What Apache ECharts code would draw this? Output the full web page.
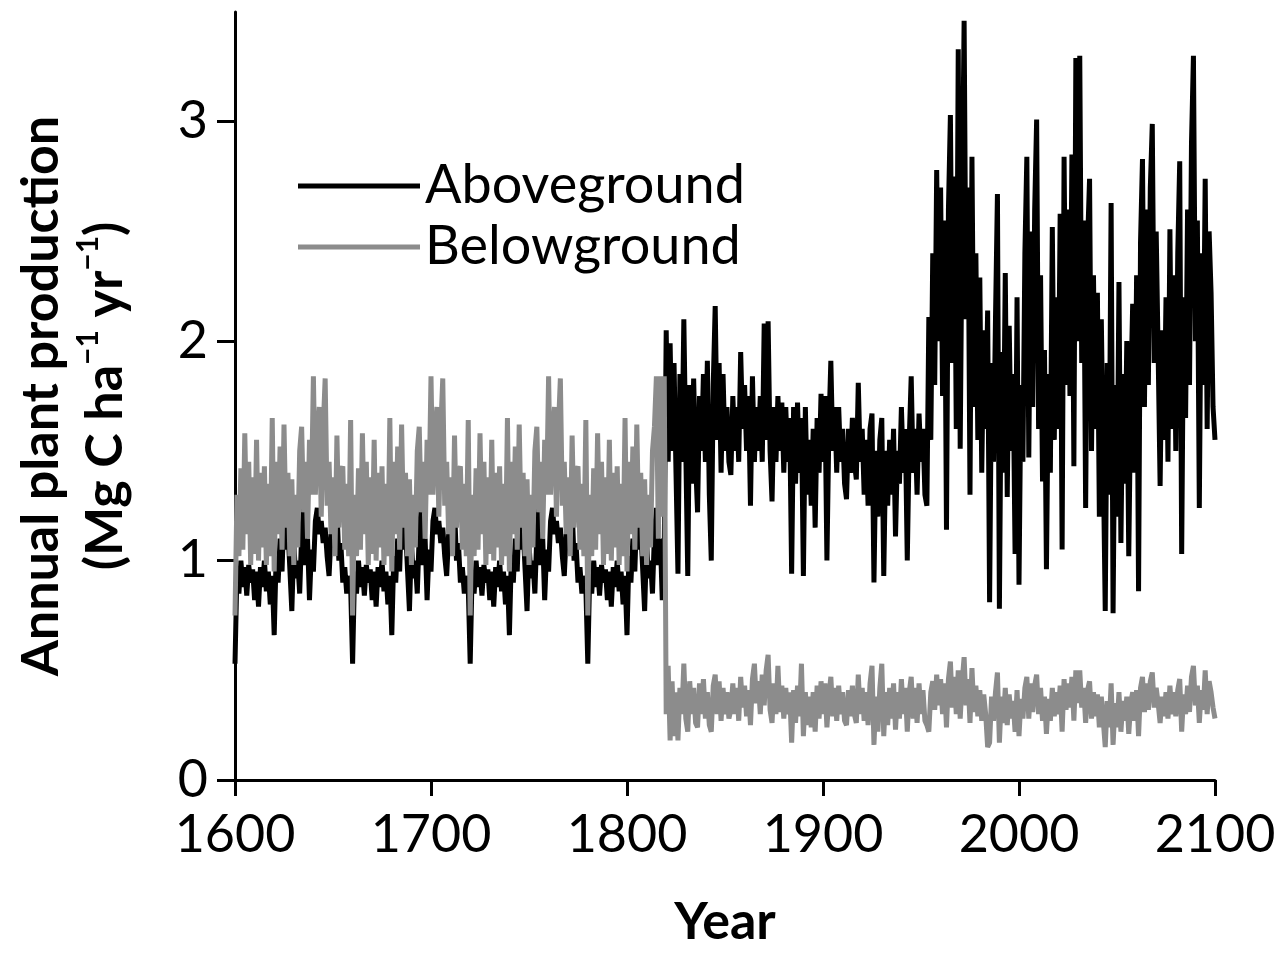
<!DOCTYPE html>
<html>
<head>
<meta charset="utf-8">
<script src="https://cdn.jsdelivr.net/npm/echarts@6/dist/echarts.min.js"></script>
<style>
html,body{margin:0;padding:0;background:#fff;overflow:hidden;}
#chart{width:1285px;height:953px;}
</style>
</head>
<body>
<div id="chart"></div>
<script>
// ---- Data ----
const seriesNames = ['Aboveground', 'Belowground'];
const xTicks = [1600, 1700, 1800, 1900, 2000, 2100];
const yTicks = [0, 1, 2, 3];

// Aboveground, 1600-1819 (climate record recycled in the model, so it repeats)
const aboveStartEarly = 1600;
const aboveEarly = [
  0.53,0.95,0.85,1.00,0.88,0.97,0.84,0.98,0.90,0.96,
  0.82,0.95,0.79,0.97,0.88,1.00,0.86,0.95,0.80,0.93,
  0.66,1.02,0.90,1.10,0.95,1.24,1.05,1.15,0.96,0.77,
  1.08,0.92,1.00,0.85,1.12,1.24,0.98,1.10,0.82,1.05,
  0.95,1.18,1.24,1.12,1.18,1.08,1.15,1.02,0.93,1.12,
  1.06,1.16,1.24,1.00,1.08,0.90,0.97,0.85,0.93,0.88,
  0.53,0.95,0.85,1.00,0.88,0.97,0.84,0.98,0.90,0.96,
  0.82,0.95,0.79,0.97,0.88,1.00,0.86,0.95,0.80,0.93,
  0.66,1.02,0.90,1.10,0.95,1.24,1.05,1.15,0.96,0.77,
  1.08,0.92,1.00,0.85,1.12,1.24,0.98,1.10,0.82,1.05,
  0.95,1.18,1.24,1.12,1.18,1.08,1.15,1.02,0.93,1.12,
  1.06,1.16,1.24,1.00,1.08,0.90,0.97,0.85,0.93,0.88,
  0.53,0.95,0.85,1.00,0.88,0.97,0.84,0.98,0.90,0.96,
  0.82,0.95,0.79,0.97,0.88,1.00,0.86,0.95,0.80,0.93,
  0.66,1.02,0.90,1.10,0.95,1.24,1.05,1.15,0.96,0.77,
  1.08,0.92,1.00,0.85,1.12,1.24,0.98,1.10,0.82,1.05,
  0.95,1.18,1.24,1.12,1.18,1.08,1.15,1.02,0.93,1.12,
  1.06,1.16,1.24,1.00,1.08,0.90,0.97,0.85,0.93,0.88,
  0.53,0.95,0.85,1.00,0.88,0.97,0.84,0.98,0.90,0.96,
  0.82,0.95,0.79,0.97,0.88,1.00,0.86,0.95,0.80,0.93,
  0.66,1.02,0.90,1.10,0.95,1.24,1.05,1.15,0.96,0.77,
  1.08,0.92,1.00,0.85,1.12,1.24,0.98,1.10,0.82,1.05
];
// Aboveground, 1820-1954
const aboveStartMid = 1820;
const aboveMid = [
  2.05,1.45,1.99,1.50,1.90,1.40,0.94,1.85,1.45,2.10,
  1.50,0.93,1.80,1.35,1.83,1.45,1.22,1.75,1.50,1.85,
  1.45,1.91,1.30,1.00,1.80,2.16,1.55,1.90,1.40,1.85,
  1.50,1.70,1.45,1.39,1.75,1.50,1.70,1.45,1.95,1.60,
  1.80,1.50,1.75,1.25,1.84,1.45,1.70,1.50,1.75,1.45,
  2.08,1.55,2.09,1.50,1.27,1.70,1.45,1.75,1.50,1.72,
  1.40,1.70,1.45,1.65,0.94,1.70,1.35,1.72,1.40,1.65,
  0.93,1.70,1.30,1.55,1.25,1.60,1.15,1.65,1.40,1.76,
  1.45,1.75,1.00,1.60,1.91,1.50,1.70,1.40,1.70,1.45,
  1.60,1.35,1.28,1.60,1.40,1.65,1.45,1.37,1.81,1.45,
  1.60,1.30,1.55,1.25,1.60,1.67,0.90,1.50,1.20,1.55,
  1.65,0.93,1.50,1.25,1.55,1.30,1.60,1.11,1.50,1.35,
  1.70,1.40,1.60,1.00,1.55,1.84,1.40,1.60,1.30,1.67,
  1.45,1.60,1.30,1.25,2.11
];
// Aboveground, 1955-2100
const aboveStartLate = 1955;
const aboveLate = [
  1.55,2.40,1.80,2.78,2.00,2.70,1.75,2.55,1.14,2.60,
  3.03,1.90,2.75,1.60,3.33,1.51,2.60,3.46,2.10,2.70,
  1.30,2.84,1.70,2.40,1.55,2.29,1.40,2.05,1.60,2.14,
  0.81,1.90,1.45,2.10,2.67,0.78,1.95,1.40,2.31,1.29,
  2.07,1.50,1.85,1.03,2.20,0.89,1.80,1.45,2.40,2.84,
  1.47,2.50,1.70,2.60,3.01,1.60,2.30,1.36,1.96,0.96,
  1.85,1.40,2.52,1.55,2.20,1.60,2.58,1.05,2.84,1.80,
  2.60,1.75,2.85,1.43,3.29,2.00,3.30,1.90,2.55,1.24,
  2.45,2.74,1.50,2.30,1.60,2.22,1.20,2.10,1.45,0.77,
  1.90,1.30,2.63,0.76,1.80,1.20,2.27,1.08,1.85,1.35,
  2.00,1.02,1.75,2.17,1.40,2.30,0.86,2.45,2.83,1.70,
  2.60,1.80,2.70,2.99,1.90,2.50,1.94,1.34,2.05,1.55,
  2.20,1.45,2.51,1.60,2.30,1.50,2.40,2.82,1.03,2.20,
  1.65,2.60,1.80,2.90,3.30,2.00,2.55,1.24,2.40,1.80,
  2.74,1.60,2.50,2.22,1.70,1.55
];

// Belowground, 1600-1819
const belowStartEarly = 1600;
const belowEarly = [
  0.75,1.30,1.02,1.42,1.05,1.58,1.12,1.45,0.98,1.38,
  1.03,1.55,1.00,1.40,1.06,1.43,0.98,1.35,1.02,1.65,
  0.95,1.45,1.12,1.52,1.05,1.62,1.15,1.40,1.02,1.37,
  0.98,1.30,1.06,1.50,1.61,1.22,1.45,1.10,1.55,1.30,
  1.84,1.30,1.55,1.70,1.20,1.60,1.83,1.25,1.45,1.12,
  1.38,1.02,1.57,1.15,1.40,1.43,1.05,1.35,1.02,1.64,
  0.75,1.30,1.02,1.42,1.05,1.58,1.12,1.45,0.98,1.38,
  1.03,1.55,1.00,1.40,1.06,1.43,0.98,1.35,1.02,1.65,
  0.95,1.45,1.12,1.52,1.05,1.62,1.15,1.40,1.02,1.37,
  0.98,1.30,1.06,1.50,1.61,1.22,1.45,1.10,1.55,1.30,
  1.84,1.30,1.55,1.70,1.20,1.60,1.83,1.25,1.45,1.12,
  1.38,1.02,1.57,1.15,1.40,1.43,1.05,1.35,1.02,1.64,
  0.75,1.30,1.02,1.42,1.05,1.58,1.12,1.45,0.98,1.38,
  1.03,1.55,1.00,1.40,1.06,1.43,0.98,1.35,1.02,1.65,
  0.95,1.45,1.12,1.52,1.05,1.62,1.15,1.40,1.02,1.37,
  0.98,1.30,1.06,1.50,1.61,1.22,1.45,1.10,1.55,1.30,
  1.84,1.30,1.55,1.70,1.20,1.60,1.83,1.25,1.45,1.12,
  1.38,1.02,1.57,1.15,1.40,1.43,1.05,1.35,1.02,1.64,
  0.75,1.30,1.02,1.42,1.05,1.58,1.12,1.45,0.98,1.38,
  1.03,1.55,1.00,1.40,1.06,1.43,0.98,1.35,1.02,1.65,
  0.95,1.45,1.12,1.52,1.05,1.62,1.15,1.40,1.02,1.37,
  0.98,1.30,1.06,1.50,1.61,1.84,1.10,1.84,1.20,1.84
];
// Belowground, 1820-2100
const belowStartLate = 1820;
const belowLate = [
  0.30,0.52,0.18,0.45,0.20,0.40,0.18,0.42,0.30,0.53,
  0.28,0.22,0.45,0.30,0.42,0.26,0.24,0.44,0.30,0.46,
  0.28,0.40,0.25,0.22,0.43,0.48,0.30,0.45,0.27,0.42,
  0.30,0.40,0.28,0.32,0.44,0.30,0.42,0.27,0.47,0.33,
  0.43,0.29,0.41,0.25,0.46,0.53,0.35,0.45,0.30,0.48,
  0.34,0.50,0.57,0.32,0.26,0.44,0.30,0.52,0.31,0.43,
  0.28,0.42,0.30,0.40,0.17,0.41,0.26,0.43,0.29,0.53,
  0.20,0.40,0.25,0.38,0.24,0.40,0.22,0.43,0.28,0.45,
  0.30,0.44,0.24,0.38,0.47,0.29,0.42,0.27,0.43,0.30,
  0.40,0.27,0.25,0.41,0.29,0.43,0.30,0.26,0.48,0.30,
  0.42,0.27,0.40,0.25,0.44,0.52,0.16,0.38,0.22,0.42,
  0.53,0.20,0.40,0.25,0.42,0.28,0.44,0.23,0.40,0.28,
  0.46,0.30,0.42,0.22,0.40,0.47,0.28,0.42,0.26,0.44,
  0.30,0.41,0.27,0.25,0.22,0.40,0.45,0.32,0.48,0.34,
  0.46,0.30,0.44,0.24,0.46,0.54,0.33,0.47,0.30,0.50,
  0.28,0.45,0.56,0.34,0.46,0.26,0.51,0.31,0.43,0.29,
  0.41,0.27,0.39,0.30,0.15,0.17,0.38,0.27,0.40,0.49,
  0.17,0.38,0.26,0.42,0.25,0.39,0.28,0.36,0.22,0.41,
  0.20,0.37,0.28,0.42,0.47,0.28,0.44,0.31,0.43,0.48,
  0.30,0.42,0.27,0.38,0.21,0.37,0.27,0.42,0.29,0.40,
  0.30,0.43,0.22,0.46,0.32,0.44,0.33,0.47,0.27,0.50,
  0.35,0.50,0.33,0.42,0.26,0.41,0.45,0.28,0.40,0.29,
  0.39,0.24,0.38,0.27,0.15,0.36,0.24,0.44,0.16,0.35,
  0.24,0.40,0.22,0.36,0.27,0.38,0.21,0.35,0.40,0.27,
  0.41,0.20,0.42,0.47,0.31,0.44,0.32,0.45,0.49,0.33,
  0.42,0.35,0.26,0.38,0.29,0.40,0.28,0.43,0.30,0.40,
  0.29,0.41,0.46,0.22,0.39,0.30,0.43,0.31,0.47,0.52,
  0.34,0.43,0.26,0.41,0.32,0.50,0.30,0.45,0.40,0.33,
  0.28
];

// ---- Build [year, value] pairs ----
function toPairs(start, values) {
  return values.map(function (v, i) { return [start + i, v]; });
}
const aboveData = toPairs(aboveStartEarly, aboveEarly)
  .concat(toPairs(aboveStartMid, aboveMid))
  .concat(toPairs(aboveStartLate, aboveLate));
const belowData = toPairs(belowStartEarly, belowEarly)
  .concat(toPairs(belowStartLate, belowLate));

const FONT = 'Lato';
const chart = echarts.init(document.getElementById('chart'), null, {renderer: 'canvas', width: 1285, height: 953});
chart.setOption({
  animation: false,
  backgroundColor: '#ffffff',
  grid: {left: 235, width: 980, top: 12, height: 785, containLabel: false},
  legend: {
    data: seriesNames,
    orient: 'vertical',
    left: 298,
    top: 156,
    padding: 0,
    icon: 'rect',
    itemWidth: 122,
    itemHeight: 5,
    itemGap: 1,
    itemStyle: {borderWidth: 0},
    selectedMode: false,
    textStyle: {fontFamily: FONT, fontSize: 54, color: '#000', lineHeight: 60, padding: [0, 0, 0, 0]}
  },
  xAxis: {
    type: 'value',
    min: 1600,
    max: 2100,
    interval: 100,
    name: 'Year',
    nameLocation: 'middle',
    nameGap: 116,
    nameTextStyle: {fontFamily: FONT, fontSize: 52, fontWeight: 'bold', color: '#000'},
    splitLine: {show: false},
    axisLine: {show: true, onZero: false, lineStyle: {color: '#000', width: 3}},
    axisTick: {show: true, length: 16, lineStyle: {color: '#000', width: 3}, customValues: xTicks},
    axisLabel: {fontFamily: FONT, fontSize: 52, color: '#000', margin: 29, customValues: xTicks,
      formatter: function (v) { return String(v); }}
  },
  yAxis: {
    type: 'value',
    min: 0,
    max: 3.5,
    interval: 1,
    name: '{t|Annual plant production}\n{t|(Mg C ha}{s|\u22121}{t| yr}{s|\u22121}{t|)}',
    nameLocation: 'middle',
    nameRotate: 90,
    nameGap: 98,
    nameTextStyle: {
      fontFamily: FONT, fontWeight: 'bold', color: '#000', fontSize: 52, align: 'center',
      rich: {
        t: {fontFamily: FONT, fontWeight: 'bold', fontSize: 52, color: '#000', lineHeight: 64},
        s: {fontFamily: FONT, fontWeight: 'bold', fontSize: 30, color: '#000', lineHeight: 40, verticalAlign: 'top'}
      }
    },
    splitLine: {show: false},
    axisLine: {show: true, lineStyle: {color: '#000', width: 3}},
    axisTick: {show: true, length: 18, lineStyle: {color: '#000', width: 3}, customValues: yTicks},
    axisLabel: {fontFamily: FONT, fontSize: 52, color: '#000', margin: 27, customValues: yTicks}
  },
  series: [
    {
      name: seriesNames[0],
      type: 'line',
      data: aboveData,
      symbol: 'none',
      showSymbol: false,
      color: '#000000',
      lineStyle: {color: '#000000', width: 5, join: 'bevel'},
      z: 2
    },
    {
      name: seriesNames[1],
      type: 'line',
      data: belowData,
      symbol: 'none',
      showSymbol: false,
      color: '#8c8c8c',
      lineStyle: {color: '#8c8c8c', width: 5, join: 'bevel'},
      z: 3
    }
  ]
});
</script>
</body>
</html>
